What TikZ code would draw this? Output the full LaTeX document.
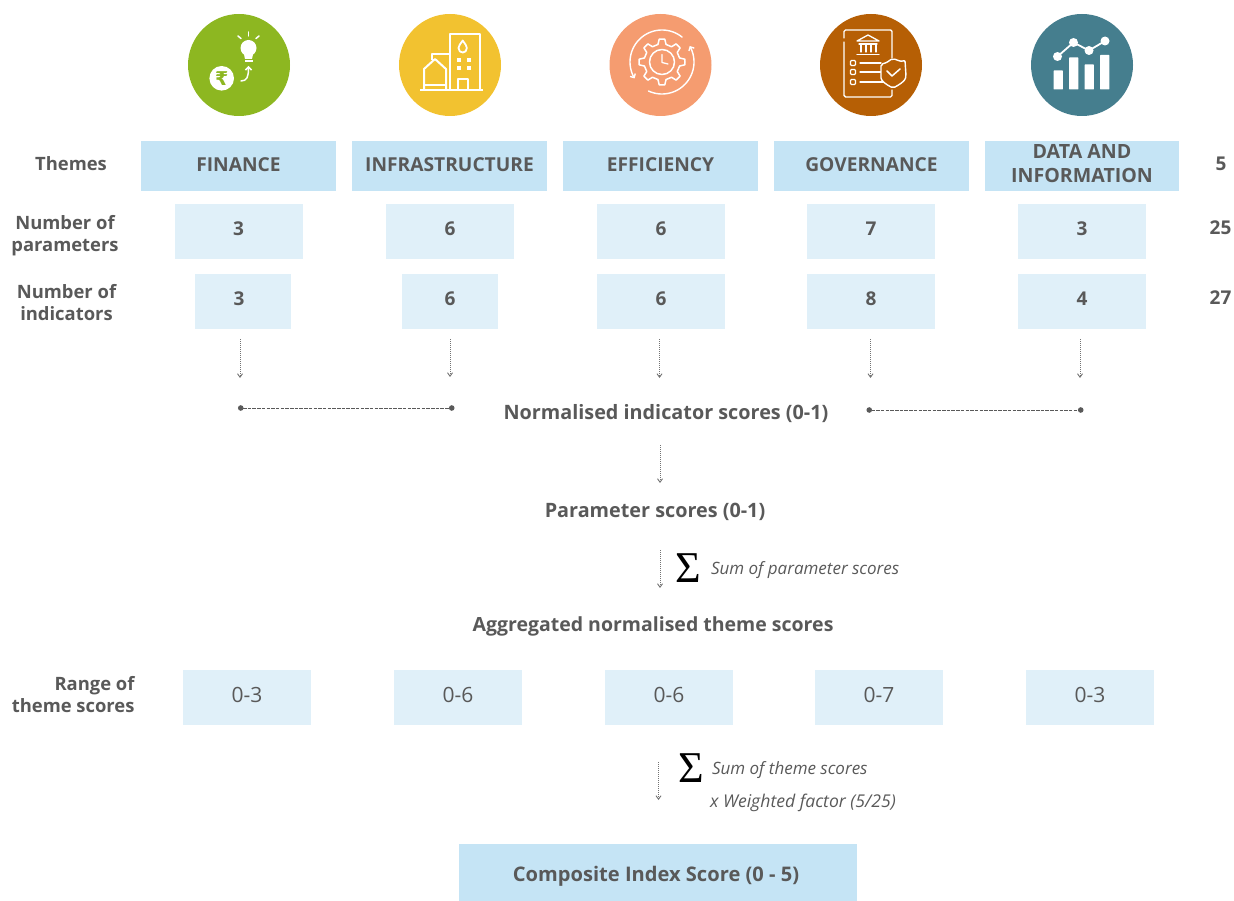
\documentclass[tikz,border=0pt]{standalone}
\usepackage{fontspec}
\setmainfont{Open Sans}
\newfontfamily\dvfont{DejaVu Sans}
\newfontfamily\sgfont{Liberation Serif}
\usetikzlibrary{arrows.meta}
\definecolor{ink}{HTML}{595959}
\definecolor{themeblue}{HTML}{C5E4F5}
\definecolor{paleblue}{HTML}{E0F0F9}
\definecolor{cgreen}{HTML}{8DB721}
\definecolor{cyellow}{HTML}{F2C230}
\definecolor{corange}{HTML}{F59C70}
\definecolor{cbrown}{HTML}{B65F05}
\definecolor{cteal}{HTML}{457E8E}
\tikzset{
  base/.style={inner sep=0pt,outer sep=0pt,text=ink,align=center},
  lab/.style={base,font=\fontsize{19}{23}\selectfont\bfseries},
  leftlab/.style={base,font=\fontsize{18.4}{22}\selectfont\bfseries},
  flowlab/.style={base,font=\fontsize{19.8}{24}\selectfont\bfseries},
  themeplain/.style={base,fill=themeblue,minimum height=50pt},
  themebox/.style={themeplain,font=\fontsize{19.2}{24}\selectfont\bfseries,text height=11.6pt,text depth=0pt},
  parbox/.style={base,font=\fontsize{19}{23}\selectfont\bfseries,fill=paleblue,minimum height=55pt,minimum width=128pt,text height=10pt,text depth=1.4pt},
  indbox/.style={parbox,minimum width=96pt},
  rangebox/.style={base,fill=paleblue,minimum height=55pt,minimum width=128pt,font=\fontsize{21}{25}\selectfont,text height=10pt,text depth=0pt},
  note/.style={base,font=\fontsize{17}{20}\selectfont\itshape,anchor=west},
  dotarrow/.style={draw=gray!90!black,line width=1pt,dash pattern=on 1pt off 1pt,-{Straight Barb[length=3.5pt,width=5pt,line width=0.9pt]}},
  dashline/.style={draw=ink,line width=1pt,dash pattern=on 3.5pt off 1.2pt,{Circle[length=5.5pt,fill=ink]}-{Circle[length=5.5pt,fill=ink]}},
  icon/.style={draw=white,line width=1.5pt,line cap=round,line join=round},
  sigma/.style={base,text=black,font=\sgfont\fontsize{44}{44}\selectfont}
}
\begin{document}
\begin{tikzpicture}[x=1pt,y=-1pt]
\useasboundingbox (0,0) rectangle (1234,901);
% icon discs
\fill[cgreen] (239,65) circle (51);
\fill[cyellow] (450,65) circle (51);
\fill[corange] (660.5,65) circle (51);
\fill[cbrown] (871,65) circle (51);
\fill[cteal] (1082,65) circle (51);
% finance icon
\fill[white] (221.7,78.3) circle (12.3);
\node[base,text=cgreen,font=\dvfont\fontsize{19}{19}\selectfont\bfseries] (rupee) at (221.7,78.3) {₹};
\fill[white] (248.5,48) circle (8);
\fill[white] (243.5,52) -- (253.5,52) -- (252,59) -- (245,59) -- cycle;
\fill[white] (244.5,60) rectangle (252.5,62.5);
\draw[icon] (248.5,32) -- (248.5,36);
\draw[icon] (238,36) -- (241,38.5);
\draw[icon] (259,36) -- (256,38.5);
\draw[icon,-{Straight Barb[length=3pt,width=6pt]}] (241,81) .. controls (247,81) and (248.5,77) .. (248.5,66);
% infrastructure icon
\draw[icon,line width=2pt,line cap=butt] (420,90.5) -- (483,90.5);
\draw[icon,line width=2pt,line cap=butt] (449.5,90) -- (449.5,34) -- (479.5,34) -- (479.5,90);
\draw[icon,line width=2pt,line cap=butt] (449.5,54.5) -- (432,54.5) -- (432,60);
\draw[icon,line width=2pt,line cap=butt] (424,90) -- (424,69) -- (435,59) -- (446,69) -- (446,90);
\draw[icon,line width=2pt,line cap=butt] (424,85) -- (446,85);
\draw[icon,line width=2pt,line cap=butt] (458,90) -- (458,79.5) -- (468,79.5) -- (468,90);
\foreach \wx in {457,467}\foreach \wy in {58,66.5}\fill[white] (\wx,\wy) rectangle +(4,4);
\draw[icon,line width=1.8pt] (462.7,40.5) .. controls (460.5,44) and (458.5,45.5) .. (458.5,48) .. controls (458.5,54) and (466.9,54) .. (466.9,48) .. controls (466.9,45.5) and (464.9,44) .. cycle;
% efficiency icon
\draw[icon,line width=1.4pt,-{Straight Barb[length=3pt,width=6pt]}] plot[domain=51:211,samples=40] ({662+32*cos(\x)},{62-32*sin(\x)});
\draw[icon,line width=1.4pt,-{Straight Barb[length=3pt,width=6pt]}] plot[domain=-115:30,samples=40] ({662+32*cos(\x)},{62-32*sin(\x)});
\draw[icon,line width=1.5pt] (662,62) +(0:23)
  \foreach \ga in {0,45,...,315}{
    -- +(\ga+7:23) -- +(\ga+13:18) -- +(\ga+32:18) -- +(\ga+38:23)
  } -- cycle;
\draw[icon,line width=1.5pt] (662,62) circle (12.5);
\draw[icon,line width=1.3pt] (662,54.5) -- (662,62.5) -- (668,64);
% governance icon
\draw[icon,line width=1.4pt,rounded corners=1.5pt] (844,38) -- (844,30) -- (892,30) -- (892,58);
\draw[icon,line width=1.4pt,rounded corners=1.5pt] (844,42) -- (844,97) -- (892,97) -- (892,90);
\draw[icon,line width=1.3pt] (857,41) -- (868,35) -- (879,41) -- cycle;
\draw[icon,line width=1.3pt] (859,44) -- (877,44) (861,45) -- (861,52) (866,45) -- (866,52) (871,45) -- (871,52) (876,45) -- (876,52) (857,54.5) -- (879,54.5);
\foreach \by in {63,72,82}{
  \draw[icon,line width=1.3pt,rounded corners=1pt] (850.5,\by-2.5) rectangle (855.5,\by+2.5);
}
\draw[icon,line width=1.3pt] (860,63) -- (881,63) (860,72) -- (881,72) (860,82) -- (885,82);
\draw[icon,line width=1.4pt,fill=cbrown,rounded corners=2pt] (881,64) .. controls (887,63) and (890,60) .. (893,58.5) .. controls (897,60) and (901,62) .. (905,60) -- (906,76) .. controls (905,81) and (899,85) .. (893,88) .. controls (887,85) and (881,81) .. (881,76) -- cycle;
\draw[icon,line width=1.5pt] (887,71) -- (892,76) -- (900,69);
% data icon
\foreach \bx/\by in {1053.5/70.5,1069/57.5,1084.5/64.5,1100/55}{
  \fill[white,rounded corners=0.5pt] (\bx,\by) rectangle (\bx+9.3,89.5);
}
\draw[icon,line width=1.8pt] (1057.5,56.5) -- (1073.5,42.5) -- (1089,50.5) -- (1105,41);
\foreach \px/\py in {1057.5/56.5,1073.5/42.5,1089/50.5,1105/41}{
  \fill[white] (\px,\py) circle (4.5);
}
% row labels
\node[leftlab] (lThemes) at (71,164) {Themes};
\node[leftlab] (lPar) at (65,236) {Number of\\parameters};
\node[leftlab] (lInd) at (66.5,302.5) {Number of\\indicators};
\node[leftlab,anchor=east,align=right] (lRange) at (134.5,694.5) {Range of\\theme scores};
% themes
\node[themebox,minimum width=195pt] (t1) at (238.5,166) {FINANCE};
\node[themebox,minimum width=195pt] (t2) at (449.5,166) {INFRASTRUCTURE};
\node[themebox,minimum width=195pt] (t3) at (660.5,166) {EFFICIENCY};
\node[themebox,minimum width=195pt] (t4) at (871.5,166) {GOVERNANCE};
\node[themeplain,minimum width=194pt] (t5) at (1082,166) {};
\node[base,font=\fontsize{19.6}{24}\selectfont\bfseries] (t5text) at (1082,163.5) {DATA AND\\INFORMATION};
\node[lab] (n5) at (1221,164) {5};
% parameters
\node[parbox] (p1) at (238.5,231.5) {3};
\node[parbox] (p2) at (450,231.5) {6};
\node[parbox] (p3) at (661,231.5) {6};
\node[parbox] (p4) at (871,231.5) {7};
\node[parbox] (p5) at (1082,231.5) {3};
\node[lab] (n25) at (1220.5,228) {25};
% indicators
\node[indbox] (i1) at (243,301.5) {\hspace*{-8pt}3};
\node[indbox] (i2) at (450,301.5) {6};
\node[parbox] (i3) at (661,301.5) {6};
\node[parbox] (i4) at (871,301.5) {8};
\node[parbox] (i5) at (1082,301.5) {4};
\node[lab] (n27) at (1220.5,298) {27};
% flow
\node[flowlab] (norm) at (666,413.5) {Normalised indicator scores (0-1)};
\node[flowlab] (par) at (655,511.5) {Parameter scores (0-1)};
\node[flowlab,font=\fontsize{19.5}{24}\selectfont\bfseries] (agg) at (653,626) {Aggregated normalised theme scores};
\node[note] (sum1) at (711,570.5) {Sum of parameter scores};
\node[note] (sum2) at (712,770.5) {Sum of theme scores};
\node[note,font=\fontsize{17.6}{20}\selectfont\itshape] (wf) at (710,802.5) {x Weighted factor (5/25)};
\node[sigma] (sig1) at (688.5,568.5) {Σ};
\node[sigma] (sig2) at (691,768.5) {Σ};
% range
\node[rangebox] (r1) at (247,697.5) {0-3};
\node[rangebox] (r2) at (458,697.5) {0-6};
\node[rangebox] (r3) at (669,697.5) {0-6};
\node[rangebox] (r4) at (879,697.5) {0-7};
\node[rangebox] (r5) at (1090,697.5) {0-3};
% composite
\node[base,font=\fontsize{20.1}{24}\selectfont\bfseries,fill=themeblue,minimum width=398pt,minimum height=57pt,text height=18.6pt,text depth=0pt] (comp) at (658,872.5) {\hspace*{-4pt}Composite Index Score (0 - 5)};
% connector ends
\coordinate (a1s) at (240,339); \coordinate (a1e) at (240,378);
\coordinate (a2s) at (450,339); \coordinate (a2e) at (450,377);
\coordinate (a3s) at (659.5,339); \coordinate (a3e) at (659.5,378);
\coordinate (a4s) at (870.5,339); \coordinate (a4e) at (870.5,378);
\coordinate (a5s) at (1080,339); \coordinate (a5e) at (1080,378);
\coordinate (b1s) at (660,445); \coordinate (b1e) at (660,483);
\coordinate (b2s) at (660,550); \coordinate (b2e) at (660,588);
\coordinate (b3s) at (658.5,762); \coordinate (b3e) at (658.5,800);
\coordinate (d1s) at (238,408); \coordinate (d1e) at (454.5,408);
\coordinate (d2s) at (866.5,410); \coordinate (d2e) at (1083.5,410);
\foreach \s/\e in {a1s/a1e,a2s/a2e,a3s/a3e,a4s/a4e,a5s/a5e,b1s/b1e,b2s/b2e,b3s/b3e}{
  \draw[dotarrow] (\s) -- (\e);
}
\draw[dashline] (d1s) -- (d1e);
\draw[dashline] (d2s) -- (d2e);
\end{tikzpicture}
\end{document}
